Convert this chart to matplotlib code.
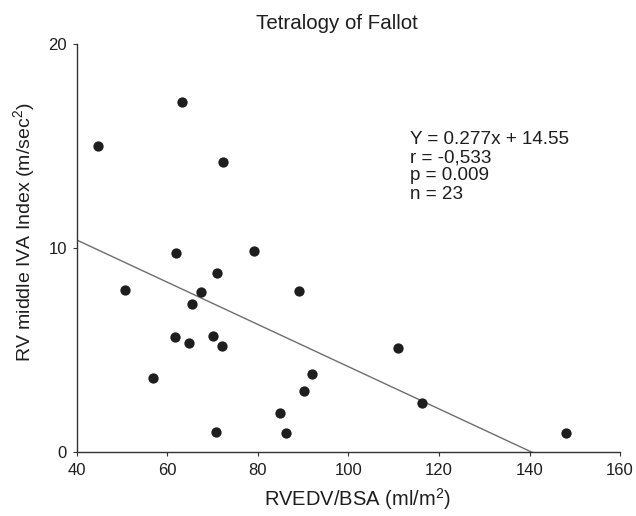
import matplotlib
matplotlib.use("Agg")
import matplotlib.pyplot as plt

plt.rcParams['font.family'] = ['Liberation Sans', 'DejaVu Sans']
plt.rcParams['mathtext.fontset'] = 'custom'
plt.rcParams['mathtext.rm'] = 'Liberation Sans'
plt.rcParams['mathtext.it'] = 'Liberation Sans:italic'
plt.rcParams['mathtext.bf'] = 'Liberation Sans:bold'

# RVEDV/BSA (ml/m2) vs RV middle IVA index (m/sec2)
rvedv_bsa = [63.2, 44.8, 72.4, 61.9, 79.2, 70.9, 50.7, 67.4, 89.1, 65.4, 61.8, 64.8,
             70.2, 72.0, 56.8, 92.0, 90.3, 84.8, 70.7, 86.3, 110.9, 116.2, 148.0]
iva_index = [17.19, 15.03, 14.25, 9.77, 9.88, 8.80, 7.96, 7.86, 7.91, 7.25, 5.64, 5.36,
             5.72, 5.23, 3.64, 3.82, 3.02, 1.91, 1.01, 0.93, 5.11, 2.40, 0.96]

# regression line as drawn in the figure
line_x = [40, 140.6]
line_intercept = 14.55
line_slope = -0.1035

x_ticks = [40, 60, 80, 100, 120, 140, 160]
y_ticks = [0, 10, 20]

stats_text = "Y = 0.277x + 14.55\nr = -0,533\np = 0.009\nn = 23"

fig = plt.figure(figsize=(6.36, 5.16), dpi=100)
ax = fig.add_axes([0.1206, 0.1234, 0.8544, 0.7906])

line_y = [line_intercept + line_slope * v for v in line_x]
ax.plot(line_x, line_y, color='#6e6e6e', lw=1.0, zorder=2)
ax.scatter(rvedv_bsa, iva_index, s=55, color='#1e1e1e', zorder=3, linewidths=0)

ax.set_xlim(40, 160)
ax.set_ylim(0, 20)
ax.set_xticks(x_ticks)
ax.set_yticks(y_ticks)
for s in ['top', 'right']:
    ax.spines[s].set_visible(False)
for s in ['left', 'bottom']:
    ax.spines[s].set_color('#333333')
    ax.spines[s].set_linewidth(1.0)
ax.tick_params(axis='both', direction='out', length=3, width=0.8, colors='#333333',
               labelsize=12, labelcolor='#1e1e1e')
ax.tick_params(axis='x', pad=5)
ax.tick_params(axis='y', pad=4)

ax.set_xlabel(r"RVEDV/BSA (ml/m$^\mathrm{2}$)", fontsize=14.5, color='#1e1e1e')
ax.xaxis.set_label_coords(0.517, -0.083)
ax.set_ylabel(r"RV middle IVA Index (m/sec$^\mathrm{2}$)", fontsize=14, color='#1e1e1e')
ax.yaxis.set_label_coords(-0.073, 0.54)

fig.text(0.529, 0.955, "Tetralogy of Fallot", ha='center', va='center',
         fontsize=14.8, color='#1e1e1e')

ax.text(0.6133, 0.788, stats_text, transform=ax.transAxes, ha='left', va='top',
        fontsize=13.6, linespacing=1.1, color='#1e1e1e')

fig.savefig("out.png", dpi=100)
